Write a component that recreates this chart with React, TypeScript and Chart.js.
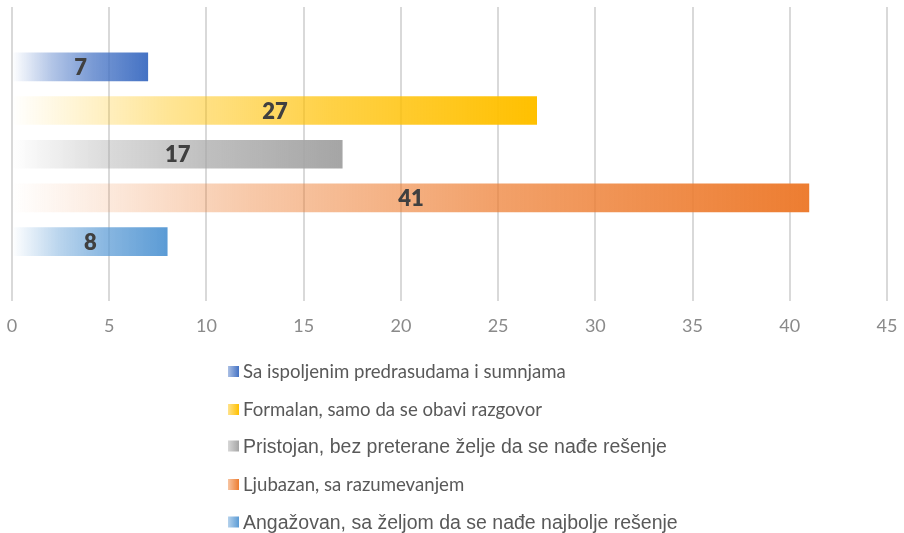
import React, { useEffect, useRef } from "react";
import { Chart, registerables } from "chart.js";

Chart.register(...registerables);

const categories: string[] = [""];
const seriesLabels: string[] = [
  "Sa ispoljenim predrasudama i sumnjama",
  "Formalan, samo da se obavi razgovor",
  "Pristojan, bez preterane želje da se nađe rešenje",
  "Ljubazan, sa razumevanjem",
  "Angažovan, sa željom da se nađe najbolje rešenje",
];
const seriesValues: number[] = [7, 27, 17, 41, 8];
const seriesColors: string[] = ["#4472C4", "#FFC000", "#A5A5A5", "#ED7D31", "#5B9BD5"];
const legendFonts: string[] = [
  "400 18.6px Lato",
  "400 18.6px Lato",
  "400 19.5px 'Liberation Sans', Arial",
  "400 18.6px Lato",
  "400 19.5px 'Liberation Sans', Arial",
];
const xTicks = { min: 0, max: 45, step: 5 };

function rgba(hex: string, a: number): string {
  const n = parseInt(hex.slice(1), 16);
  return `rgba(${(n >> 16) & 255},${(n >> 8) & 255},${n & 255},${a})`;
}

const labelPlugin = {
  id: "barLabels",
  afterDatasetsDraw(chart: any) {
    const ctx = chart.ctx;
    ctx.save();
    ctx.font = "800 22px Lato";
    ctx.fillStyle = "#404040";
    ctx.textAlign = "center";
    ctx.textBaseline = "middle";
    chart.data.datasets.forEach((ds: any, i: number) => {
      const meta = chart.getDatasetMeta(i);
      meta.data.forEach((el: any, j: number) => {
        const cx = (el.x + el.base) / 2;
        ctx.fillText(String(ds.data[j]), cx, el.y + 1);
      });
    });
    ctx.restore();
  },
};

export default function App() {
  const ref = useRef<HTMLCanvasElement | null>(null);

  useEffect(() => {
    if (!ref.current) return;
    const chart = new Chart(ref.current, {
      type: "bar",
      data: {
        labels: categories,
        datasets: seriesLabels.map((label, i) => ({
          label,
          data: [seriesValues[i]],
          backgroundColor: (c: any) => {
            const ch = c.chart;
            const col = seriesColors[i];
            if (!ch.chartArea || !ch.scales.x) return col;
            const xs = ch.scales.x;
            const x0 = xs.getPixelForValue(0);
            const x1 = xs.getPixelForValue(c.raw ?? seriesValues[i]);
            if (!isFinite(x0) || !isFinite(x1) || x1 - x0 < 1) return col;
            const g = ch.ctx.createLinearGradient(x0, 0, x1, 0);
            g.addColorStop(0, rgba(col, 0.0));
            g.addColorStop(0.3, rgba(col, 0.42));
            g.addColorStop(0.6, rgba(col, 0.72));
            g.addColorStop(1, rgba(col, 1));
            return g;
          },
          borderWidth: 0,
          categoryPercentage: 0.742,
          barPercentage: 0.655,
        })),
      },
      options: {
        indexAxis: "y",
        responsive: false,
        animation: false,
        devicePixelRatio: 1,
        layout: { padding: { left: 12, right: 17, top: 7, bottom: 182 } },
        plugins: {
          legend: { display: false },
          tooltip: { enabled: false },
        },
        scales: {
          x: {
            min: xTicks.min,
            max: xTicks.max,
            afterFit: (scale: any) => {
              scale.paddingLeft = 0;
              scale.paddingRight = 0;
            },
            ticks: {
              stepSize: xTicks.step,
              color: "#8a8a8a",
              font: { family: "Lato", size: 18 },
              padding: 14,
            },
            grid: { color: "#d9d9d9", lineWidth: 2, drawTicks: false },
            border: { display: false },
          },
          y: {
            display: false,
          },
        },
      } as any,
      plugins: [labelPlugin],
    });
    return () => chart.destroy();
  }, []);

  const legendTops = [371, 409, 446, 484, 522];

  return (
    <div style={{ position: "absolute", left: 0, top: 0, width: 904, height: 533, background: "#fff", overflow: "hidden" }}>
      <canvas ref={ref} width={904} height={533} style={{ display: "block" }} />
      {seriesLabels.map((label, i) => (
        <div
          key={label}
          style={{
            position: "absolute",
            left: 228,
            top: legendTops[i],
            transform: "translateY(-50%)",
            display: "flex",
            alignItems: "center",
            whiteSpace: "nowrap",
            color: "#595959",
            font: legendFonts[i],
          }}
        >
          <span
            style={{
              display: "inline-block",
              width: 11,
              height: 11,
              marginRight: 4,
              background: `linear-gradient(to right, ${rgba(seriesColors[i], 0.45)}, ${seriesColors[i]})`,
            }}
          />
          <span>{label}</span>
        </div>
      ))}
    </div>
  );
}
